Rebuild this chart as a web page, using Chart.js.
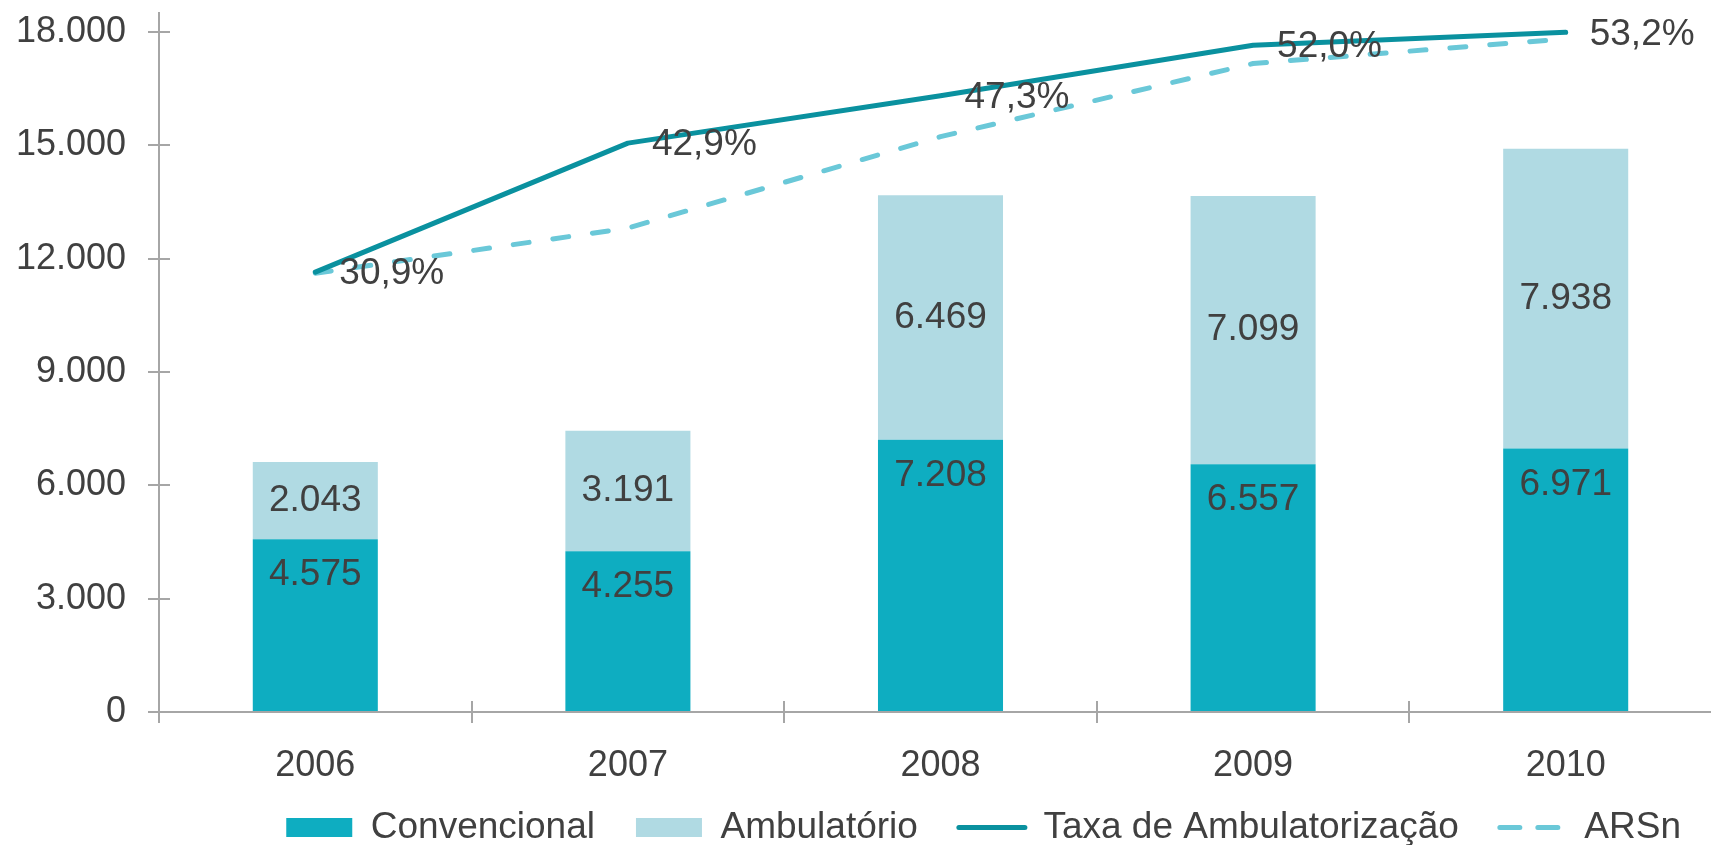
<!DOCTYPE html>
<html lang="pt">
<head>
<meta charset="UTF-8">
<title>Taxa de Ambulatorização</title>
<script src="https://cdn.jsdelivr.net/npm/chart.js"></script>
<style>
    * { margin: 0; padding: 0; box-sizing: border-box; }
    html, body { width: 100%; height: 100%; overflow: hidden; background: #fff; }
    .chart-box { position: absolute; left: 0; top: 0; }
</style>
</head>
<body>
<div class="chart-box"><canvas id="chart" width="1740" height="872"></canvas></div>
<script>
    // data
    const years = ['2006', '2007', '2008', '2009', '2010'];
    const convencional = [4575, 4255, 7208, 6557, 6971];
    const ambulatorio = [2043, 3191, 6469, 7099, 7938];
    const taxaAmbulatorizacao = [30.9, 42.9, 47.3, 52.0, 53.2];
    const arsn = [30.8, 35.0, 43.5, 50.3, 52.6];
    const yTicks = [0, 3000, 6000, 9000, 12000, 15000, 18000];

    const textColor = '#404040';
    const axisColor = '#a6a6a6';

    Chart.defaults.font.family = '"Liberation Sans", Arial, sans-serif';
    Chart.defaults.color = textColor;

    const thousands = v => String(v).replace(/\B(?=(\d{3})+(?!\d))/g, '.');
    const pct = v => v.toFixed(1).replace('.', ',') + '%';

    // value labels: bars + the Taxa line only
    const valueLabels = {
        id: 'valueLabels',
        afterDatasetsDraw(chart) {
            const ctx = chart.ctx;
            ctx.save();
            ctx.font = '37px "Liberation Sans", Arial, sans-serif';
            ctx.fillStyle = textColor;
            ctx.textBaseline = 'middle';
            chart.data.datasets.forEach((ds, i) => {
                if (!ds.showValues) return;
                chart.getDatasetMeta(i).data.forEach((el, j) => {
                    const v = ds.data[j];
                    if (ds.type === 'line') {
                        ctx.textAlign = 'left';
                        ctx.fillText(pct(v), el.x + 24, el.y + 2);
                    } else if (i === 0) {
                        ctx.textAlign = 'center';
                        ctx.fillText(thousands(v), el.x, el.y + 36);
                    } else {
                        ctx.textAlign = 'center';
                        ctx.fillText(thousands(v), el.x, (el.y + el.base) / 2);
                    }
                });
            });
            ctx.restore();
        }
    };

    // tick marks cross the axis lines
    const crossTicks = {
        id: 'crossTicks',
        afterDraw(chart) {
            const { ctx, chartArea, scales: { x, y } } = chart;
            ctx.save();
            ctx.strokeStyle = axisColor;
            ctx.lineWidth = 2;
            ctx.beginPath();
            y.ticks.forEach((t, i) => {
                const py = Math.round(y.getPixelForTick(i));
                ctx.moveTo(chartArea.left, py);
                ctx.lineTo(chartArea.left + 11, py);
            });
            const w = (x.right - x.left) / years.length;
            for (let k = 0; k <= years.length; k++) {
                const px = Math.round(x.left + k * w);
                ctx.moveTo(px, chartArea.bottom);
                ctx.lineTo(px, chartArea.bottom - 11);
            }
            ctx.stroke();
            ctx.restore();
        }
    };

    // legend sits a bit closer to the axis labels than its padding allows
    const legendNudge = {
        id: 'legendNudge',
        afterLayout(chart) {
            chart.legend.top -= 16;
            chart.legend.bottom -= 16;
        }
    };

    const chart = new Chart(document.getElementById('chart'), {
        type: 'bar',
        data: {
            labels: years,
            datasets: [
                {
                    label: 'Convencional',
                    data: convencional,
                    backgroundColor: '#0eadc1',
                    barPercentage: 0.4,
                    categoryPercentage: 1.0,
                    showValues: true
                },
                {
                    label: 'Ambulatório',
                    data: ambulatorio,
                    backgroundColor: '#b0dae3',
                    barPercentage: 0.4,
                    categoryPercentage: 1.0,
                    showValues: true
                },
                {
                    type: 'line',
                    label: 'Taxa de Ambulatorização',
                    data: taxaAmbulatorizacao,
                    yAxisID: 'y2',
                    borderColor: '#0a919f',
                    backgroundColor: '#0a919f',
                    borderWidth: 5,
                    pointRadius: 0,
                    tension: 0,
                    borderCapStyle: 'round',
                    borderJoinStyle: 'round',
                    showValues: true
                },
                {
                    type: 'line',
                    label: 'ARSn',
                    data: arsn,
                    yAxisID: 'y2',
                    borderColor: '#6ac8d8',
                    backgroundColor: '#6ac8d8',
                    borderWidth: 5,
                    borderDash: [16, 24],
                    pointRadius: 0,
                    tension: 0,
                    borderCapStyle: 'round',
                    borderJoinStyle: 'round'
                }
            ]
        },
        options: {
            responsive: false,
            animation: false,
            layout: { padding: { top: 13, left: 15, right: 18, bottom: 0 } },
            scales: {
                x: {
                    stacked: true,
                    grid: { offset: true, drawOnChartArea: false, color: axisColor, lineWidth: 2, tickLength: 11 },
                    border: { color: axisColor, width: 2 },
                    ticks: { color: textColor, font: { size: 36, lineHeight: 1 }, padding: 25 },
                    afterFit(s) { s.height = 72; s.paddingLeft = 0; s.paddingRight = 0; }
                },
                y: {
                    stacked: true,
                    min: 0,
                    max: 18500,
                    afterBuildTicks(s) { s.ticks = yTicks.map(v => ({ value: v })); },
                    grid: { drawOnChartArea: false, color: axisColor, lineWidth: 2, tickLength: 11 },
                    border: { color: axisColor, width: 2 },
                    ticks: { color: textColor, font: { size: 36 }, padding: 22, callback: v => thousands(v) },
                    afterFit(s) { s.width = 144; s.paddingTop = 0; s.paddingBottom = 0; }
                },
                y2: { display: false, min: -10, max: 55 }
            },
            plugins: {
                tooltip: { enabled: false },
                legend: {
                    position: 'bottom',
                    fullSize: false,
                    align: 'end',
                    labels: {
                        usePointStyle: true,
                        pointStyleWidth: 66,
                        boxHeight: 19,
                        padding: 41,
                        color: textColor,
                        font: { size: 37 },
                        generateLabels(chart) {
                            return chart.data.datasets.map((ds, i) => {
                                const isLine = ds.type === 'line';
                                return {
                                    text: ds.label,
                                    fillStyle: isLine ? ds.borderColor : ds.backgroundColor,
                                    strokeStyle: isLine ? ds.borderColor : ds.backgroundColor,
                                    lineWidth: isLine ? 5 : 0,
                                    lineDash: isLine && ds.borderDash ? [20, 18] : [],
                                    lineCap: 'round',
                                    pointStyle: isLine ? 'line' : 'rect',
                                    fontColor: textColor,
                                    hidden: false,
                                    datasetIndex: i
                                };
                            });
                        }
                    }
                }
            }
        },
        plugins: [valueLabels, crossTicks, legendNudge]
    });
</script>
</body>
</html>
